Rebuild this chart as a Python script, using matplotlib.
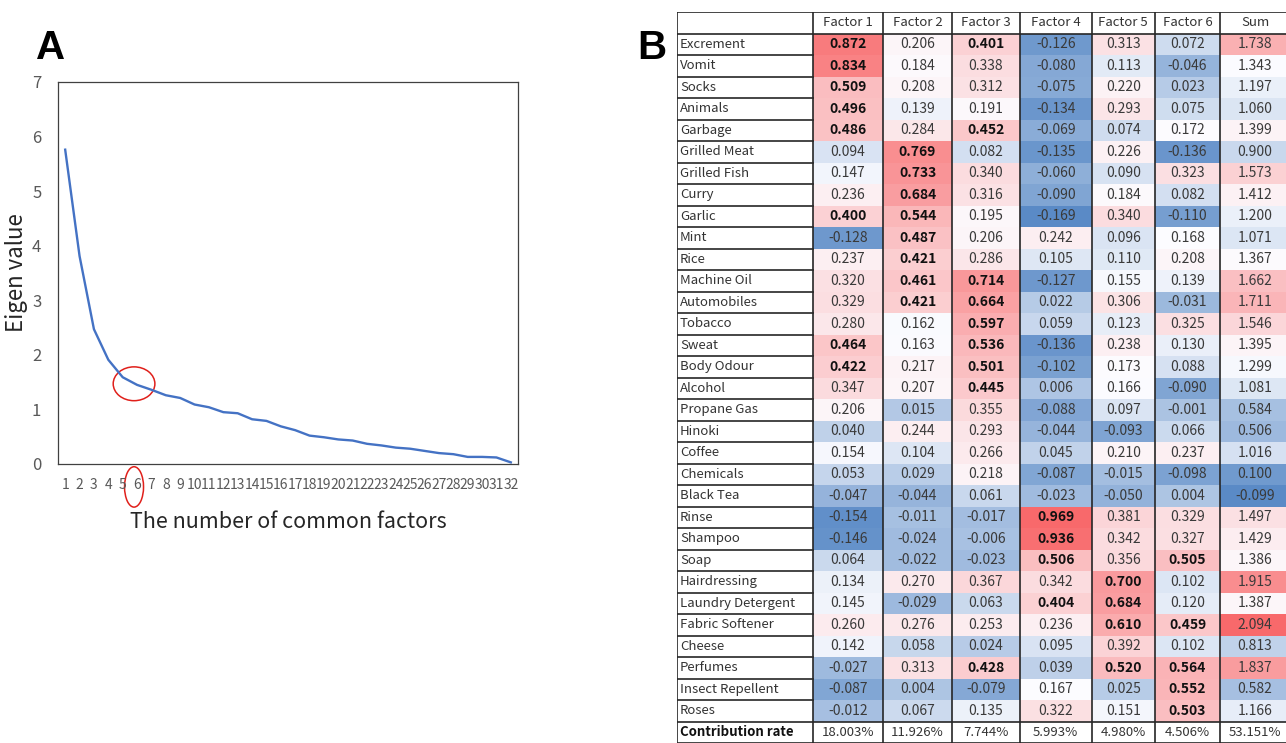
import numpy as np
import matplotlib.pyplot as plt
from matplotlib.patches import Rectangle, Ellipse

plt.rcParams['font.family'] = ['Noto Sans CJK JP', 'DejaVu Sans']

# Panel A: scree plot
n_factors = list(range(1, 33))
eigen = [5.76, 3.81, 2.47, 1.91, 1.59, 1.45, 1.36, 1.26, 1.21, 1.09, 1.04, 0.95,
         0.93, 0.82, 0.79, 0.69, 0.62, 0.52, 0.49, 0.45, 0.43, 0.37, 0.34, 0.30,
         0.28, 0.24, 0.20, 0.18, 0.13, 0.13, 0.12, 0.03]

# Panel B: factor loadings
odours = ['Excrement', 'Vomit', 'Socks', 'Animals', 'Garbage', 'Grilled Meat',
          'Grilled Fish', 'Curry', 'Garlic', 'Mint', 'Rice', 'Machine Oil',
          'Automobiles', 'Tobacco', 'Sweat', 'Body Odour', 'Alcohol',
          'Propane Gas', 'Hinoki', 'Coffee', 'Chemicals', 'Black Tea', 'Rinse',
          'Shampoo', 'Soap', 'Hairdressing', 'Laundry Detergent',
          'Fabric Softener', 'Cheese', 'Perfumes', 'Insect Repellent', 'Roses']
factor1 = [0.872, 0.834, 0.509, 0.496, 0.486, 0.094, 0.147, 0.236, 0.400, -0.128,
           0.237, 0.320, 0.329, 0.280, 0.464, 0.422, 0.347, 0.206, 0.040, 0.154,
           0.053, -0.047, -0.154, -0.146, 0.064, 0.134, 0.145, 0.260, 0.142,
           -0.027, -0.087, -0.012]
factor2 = [0.206, 0.184, 0.208, 0.139, 0.284, 0.769, 0.733, 0.684, 0.544, 0.487,
           0.421, 0.461, 0.421, 0.162, 0.163, 0.217, 0.207, 0.015, 0.244, 0.104,
           0.029, -0.044, -0.011, -0.024, -0.022, 0.270, -0.029, 0.276, 0.058,
           0.313, 0.004, 0.067]
factor3 = [0.401, 0.338, 0.312, 0.191, 0.452, 0.082, 0.340, 0.316, 0.195, 0.206,
           0.286, 0.714, 0.664, 0.597, 0.536, 0.501, 0.445, 0.355, 0.293, 0.266,
           0.218, 0.061, -0.017, -0.006, -0.023, 0.367, 0.063, 0.253, 0.024,
           0.428, -0.079, 0.135]
factor4 = [-0.126, -0.080, -0.075, -0.134, -0.069, -0.135, -0.060, -0.090, -0.169,
           0.242, 0.105, -0.127, 0.022, 0.059, -0.136, -0.102, 0.006, -0.088,
           -0.044, 0.045, -0.087, -0.023, 0.969, 0.936, 0.506, 0.342, 0.404,
           0.236, 0.095, 0.039, 0.167, 0.322]
factor5 = [0.313, 0.113, 0.220, 0.293, 0.074, 0.226, 0.090, 0.184, 0.340, 0.096,
           0.110, 0.155, 0.306, 0.123, 0.238, 0.173, 0.166, 0.097, -0.093, 0.210,
           -0.015, -0.050, 0.381, 0.342, 0.356, 0.700, 0.684, 0.610, 0.392,
           0.520, 0.025, 0.151]
factor6 = [0.072, -0.046, 0.023, 0.075, 0.172, -0.136, 0.323, 0.082, -0.110, 0.168,
           0.208, 0.139, -0.031, 0.325, 0.130, 0.088, -0.090, -0.001, 0.066, 0.237,
           -0.098, 0.004, 0.329, 0.327, 0.505, 0.102, 0.120, 0.459, 0.102, 0.564,
           0.552, 0.503]
sums = [1.738, 1.343, 1.197, 1.060, 1.399, 0.900, 1.573, 1.412, 1.200, 1.071,
        1.367, 1.662, 1.711, 1.546, 1.395, 1.299, 1.081, 0.584, 0.506, 1.016,
        0.100, -0.099, 1.497, 1.429, 1.386, 1.915, 1.387, 2.094, 0.813, 1.837,
        0.582, 1.166]
headers = ['Factor 1', 'Factor 2', 'Factor 3', 'Factor 4', 'Factor 5', 'Factor 6', 'Sum']
contribution = ['18.003%', '11.926%', '7.744%', '5.993%', '4.980%', '4.506%', '53.151%']

W, H = 1286, 743
fig = plt.figure(figsize=(W / 100, H / 100), dpi=100)

# ---------- A ----------
ax = fig.add_axes([58 / W, (H - 464) / H, 460 / W, 382 / H])
ax.plot(n_factors, eigen, color='#4472C4', lw=1.7)
ax.set_xlim(0.5, 32.5)
ax.set_ylim(0, 7)
ax.set_xticks(n_factors)
ax.set_yticks(range(0, 8))
ax.tick_params(length=0, labelcolor='#595959')
ax.tick_params(axis='x', labelsize=10, pad=10)
ax.tick_params(axis='y', labelsize=12, pad=12)
for s in ax.spines.values():
    s.set_color('#404040')
    s.set_linewidth(0.9)
ax.set_ylabel('Eigen value', fontsize=16, color='#262626')
ax.yaxis.set_label_coords(-0.066, 0.5)
ax.set_xlabel('The number of common factors', fontsize=15.5, color='#262626',
              labelpad=14)

# red circles around the chosen number of factors
ax.add_patch(Ellipse((5.79, 1.47), 2.9, 0.62, fill=False, ec='#E0201B', lw=1.1))
ax.add_patch(Ellipse((5.79, -0.42), 1.32, 0.74, fill=False, ec='#E0201B', lw=1.1,
                     clip_on=False))

fig.text(51 / W, 1 - 48 / H, 'A', fontsize=29, fontweight='bold', ha='center',
         va='center', family='Liberation Sans')
fig.text(652 / W, 1 - 48 / H, 'B', fontsize=29, fontweight='bold', ha='center',
         va='center', family='Liberation Sans')

# ---------- B ----------
col_edges = [677, 812.5, 883, 952, 1020, 1091.5, 1155, 1220, 1290]
n_rows = len(odours) + 2
row_h = 21.5
tx = fig.add_axes([677 / W, (H - 12 - n_rows * row_h) / H, (W - 677) / W, n_rows * row_h / H])
tx.set_xlim(677, W)
tx.set_ylim(n_rows, 0)
tx.axis('off')

blue = np.array([90, 138, 198]) / 255
white = np.array([252, 252, 255]) / 255
red = np.array([248, 105, 107]) / 255


def scale_color(v, lo, mid, hi):
    # Excel-like 3-colour scale: min blue, median white, max red
    if v <= mid:
        t = (v - lo) / (mid - lo)
        return blue + t * (white - blue)
    t = (v - mid) / (hi - mid)
    return white + t * (red - white)


columns = [factor1, factor2, factor3, factor4, factor5, factor6, sums]
loadings = np.concatenate(columns[:6])
scale_f = (loadings.min(), np.median(loadings), loadings.max())
scale_s = (min(sums), np.median(sums), max(sums))

fs = 9.5
fs_num = 10
for j, (col, head) in enumerate(zip(columns, headers)):
    x0, x1 = col_edges[j + 1], col_edges[j + 2]
    xc = (x0 + x1) / 2
    sc = scale_f if j < 6 else scale_s
    tx.text(xc, 0.5, head, ha='center', va='center', fontsize=fs, color='#333333')
    for i, v in enumerate(col):
        r = i + 1
        tx.add_patch(Rectangle((x0, r), x1 - x0, 1, fc=scale_color(v, *sc), ec='none'))
        bold = j < 6 and v >= 0.4
        tx.text(xc, r + 0.5, f'{v:.3f}', ha='center', va='center', fontsize=fs_num,
                fontweight='bold' if bold else 'normal',
                color='#111111' if bold else '#3a3a3a')
    tx.text(xc, n_rows - 0.5, contribution[j], ha='center', va='center',
            fontsize=fs, color='#333333')

for i, name in enumerate(odours):
    tx.text(col_edges[0] + 3, i + 1.5, name, ha='left', va='center', fontsize=fs,
            color='#333333')
tx.text(col_edges[0] + 3, n_rows - 0.5, 'Contribution rate', ha='left',
        va='center', fontsize=fs, fontweight='bold', color='#111111')

lc, lw = '#262626', 1.2
for x in col_edges:
    tx.plot([x, x], [0, n_rows], color=lc, lw=lw, solid_capstyle='butt')
for r in range(n_rows + 1):
    if r in (0, 1, n_rows - 1, n_rows):
        tx.plot([col_edges[0], col_edges[-1]], [r, r], color=lc, lw=lw)
    else:
        tx.plot([col_edges[0], col_edges[1]], [r, r], color=lc, lw=lw)

fig.savefig('out.png', dpi=100)
